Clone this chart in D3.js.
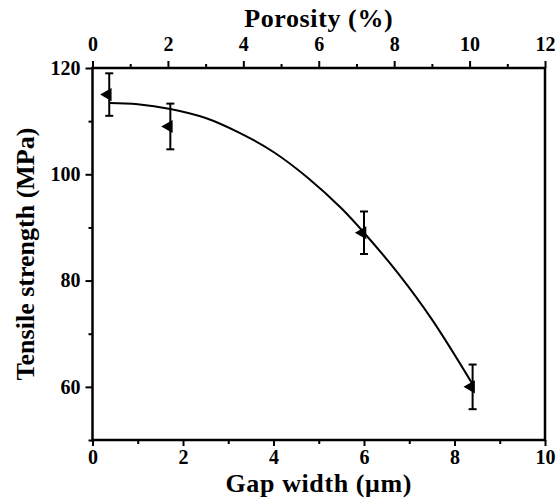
<!DOCTYPE html>
<html><head><meta charset="utf-8">
<script src="https://cdn.jsdelivr.net/npm/d3@7"></script>
<style>body{margin:0;background:#fff}svg{display:block}text{font-family:"Liberation Serif","Times New Roman",serif;font-weight:bold;fill:#000}</style>
</head><body><div id="chart"></div>
<script>
const gapWidth = [0.37, 1.72, 6.0, 8.4];
const tensile = [115, 109, 89, 60];
const errBar = [4.0, 4.3, 4.0, 4.2];
const fitX = [0.37, 1.0, 1.72, 2.5, 3.25, 4.0, 4.75, 5.5, 6.0, 6.75, 7.5, 8.4];
const fitY = [113.4, 113.2, 112.3, 110.6, 107.8, 104.2, 99.4, 93.6, 89.0, 81.4, 72.7, 60.5];
const bottomTicks = [0, 2, 4, 6, 8, 10];
const topTicks = [0, 2, 4, 6, 8, 10, 12];
const leftTicks = [60, 80, 100, 120];

const W = 556, H = 500;
const L = 92.5, R = 545, T = 68, B = 440;
const svg = d3.select("#chart").append("svg").attr("width", W).attr("height", H);

const x = d3.scaleLinear().domain([0, 10]).range([L, R]);
const xTop = d3.scaleLinear().domain([0, 12]).range([L, R]);
const y = d3.scaleLinear().domain([50, 120]).range([B, T]);

function styleAxis(g) {
  g.select(".domain").remove();
  g.selectAll(".tick line").attr("stroke", "#000").attr("stroke-width", 2);
  g.selectAll(".tick text").attr("fill", "#000").style("font-size", "20px");
}

// bottom axis
svg.append("g").attr("transform", `translate(0,${B})`)
  .call(d3.axisBottom(x).tickValues(bottomTicks).tickSize(6).tickPadding(4).tickFormat(d3.format("d")))
  .call(styleAxis);
svg.append("g").attr("transform", `translate(0,${B})`)
  .call(d3.axisBottom(x).tickValues(d3.range(1, 10, 2)).tickSize(4).tickFormat(""))
  .call(styleAxis);
// top axis
svg.append("g").attr("transform", `translate(0,${T})`)
  .call(d3.axisTop(xTop).tickValues(topTicks).tickSize(7).tickPadding(10).tickFormat(d3.format("d")))
  .call(styleAxis);
svg.append("g").attr("transform", `translate(0,${T})`)
  .call(d3.axisTop(xTop).tickValues(d3.range(1, 12, 2)).tickSize(4).tickFormat(""))
  .call(styleAxis);
// left axis
svg.append("g").attr("transform", `translate(${L},0)`)
  .call(d3.axisLeft(y).tickValues(leftTicks).tickSize(7).tickPadding(5).tickFormat(d3.format("d")))
  .call(styleAxis);
svg.append("g").attr("transform", `translate(${L},0)`)
  .call(d3.axisLeft(y).tickValues([50, 70, 90, 110]).tickSize(4).tickFormat(""))
  .call(styleAxis);

// frame
svg.append("rect").attr("x", L).attr("y", T).attr("width", R - L).attr("height", B - T)
  .attr("fill", "none").attr("stroke", "#000").attr("stroke-width", 2.5);

// fitted curve
const line = d3.line().x(d => x(d[0])).y(d => y(d[1])).curve(d3.curveCatmullRom);
svg.append("path").datum(fitX.map((v, i) => [v, fitY[i]]))
  .attr("d", line).attr("fill", "none").attr("stroke", "#000").attr("stroke-width", 2);

// error bars
const pts = gapWidth.map((v, i) => ({ x: v, y: tensile[i], e: errBar[i] }));
const eg = svg.append("g").attr("stroke", "#000").attr("stroke-width", 2);
pts.forEach(p => {
  const cx = x(p.x);
  eg.append("line").attr("x1", cx).attr("x2", cx).attr("y1", y(p.y + p.e)).attr("y2", y(p.y - p.e));
  [p.y + p.e, p.y - p.e].forEach(v => {
    eg.append("line").attr("x1", cx - 4).attr("x2", cx + 4).attr("y1", y(v)).attr("y2", y(v));
  });
});
// markers
svg.append("g").selectAll("path").data(pts).join("path")
  .attr("d", d3.symbol(d3.symbolTriangle, 75))
  .attr("transform", d => `translate(${x(d.x) - 1.5},${y(d.y)}) rotate(-90)`)
  .attr("fill", "#000");

// titles
svg.append("text").attr("x", (L + R) / 2).attr("y", 27).attr("text-anchor", "middle").attr("fill", "#000")
  .style("font-size", "26px").style("letter-spacing", "0.6px").text("Porosity (%)");
svg.append("text").attr("x", (L + R) / 2).attr("y", 492).attr("text-anchor", "middle").attr("fill", "#000")
  .style("font-size", "26px").style("letter-spacing", "0.6px").text("Gap width (μm)");
svg.append("text").attr("transform", `translate(34,${(T + B) / 2}) rotate(-90)`).attr("text-anchor", "middle").attr("fill", "#000")
  .style("font-size", "26px").text("Tensile strength (MPa)");
</script></body></html>
